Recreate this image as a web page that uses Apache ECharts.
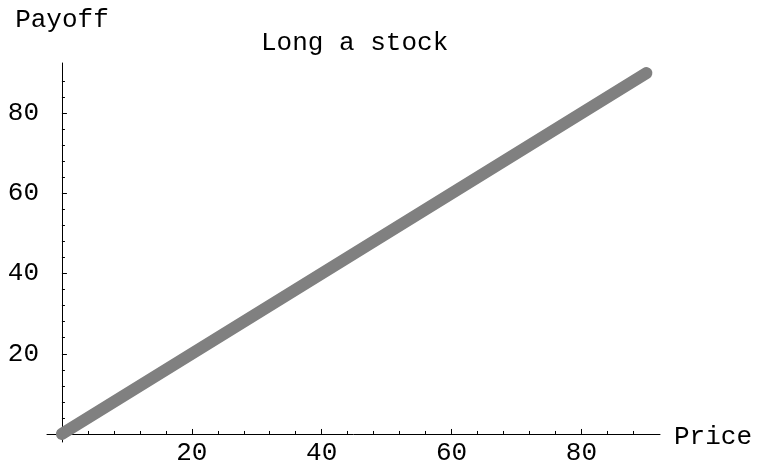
<!DOCTYPE html>
<html>
<head>
<meta charset="utf-8">
<script src="https://cdn.jsdelivr.net/npm/echarts@6/dist/echarts.min.js"></script>
<style>html,body{margin:0;padding:0;background:#fff;}#c{width:759px;height:466px;}</style>
</head>
<body>
<div id="c"></div>
<script>
const price = [0, 90];
const payoff = [0, 90];
const xMajorTicks = [20, 40, 60, 80];
const yMajorTicks = [20, 40, 60, 80];
const xMinorTicks = [4, 8, 12, 16, 24, 28, 32, 36, 44, 48, 52, 56, 64, 68, 72, 76, 84, 88];
const yMinorTicks = [4, 8, 12, 16, 24, 28, 32, 36, 44, 48, 52, 56, 64, 68, 72, 76, 84, 88];
const titleText = 'Long a stock';
const xName = 'Price';
const yName = 'Payoff';

const FONT = '"Courier New", Courier, "Liberation Mono", monospace';
const FS = 26;
const X_MIN = -2.3, X_MAX = 92.1, Y_MIN = -2, Y_MAX = 92.5;

const chart = echarts.init(document.getElementById('c'), null, {renderer: 'canvas'});
const axisBase = {
  type: 'value',
  splitLine: {show: false},
  axisLine: {onZero: true, lineStyle: {color: '#000', width: 1}},
};
chart.setOption({
  backgroundColor: '#fff',
  animation: false,
  title: {
    text: titleText, left: 256, top: 25,
    textStyle: {fontFamily: FONT, fontSize: FS, fontWeight: 'normal', color: '#000'}
  },
  grid: {left: 47, right: 99, top: 63, bottom: 24, containLabel: false, outerBoundsMode: 'none'},
  xAxis: [
    Object.assign({}, axisBase, {
      min: X_MIN, max: X_MAX, position: 'bottom',
      name: xName, nameLocation: 'end', nameGap: 14,
      nameTextStyle: {fontFamily: FONT, fontSize: FS, color: '#000', verticalAlign: 'top', lineHeight: 6},
      axisTick: {show: true, inside: true, length: 5, customValues: xMajorTicks, lineStyle: {color: '#000'}},
      axisLabel: {show: true, customValues: xMajorTicks, margin: -2, fontFamily: FONT, fontSize: FS, color: '#000'}
    }),
    Object.assign({}, axisBase, {
      min: X_MIN, max: X_MAX, position: 'bottom',
      axisLine: {show: false, onZero: true, onZeroAxisIndex: 0},
      axisTick: {show: true, inside: true, length: 3, customValues: xMinorTicks, lineStyle: {color: '#000'}},
      axisLabel: {show: false}
    })
  ],
  yAxis: [
    Object.assign({}, axisBase, {
      min: Y_MIN, max: Y_MAX, position: 'left',
      name: yName, nameLocation: 'end', nameGap: 30,
      nameTextStyle: {fontFamily: FONT, fontSize: FS, color: '#000', align: 'center'},
      axisTick: {show: true, inside: true, length: 5, customValues: yMajorTicks, lineStyle: {color: '#000'}},
      axisLabel: {show: true, customValues: yMajorTicks, margin: 8, padding: [8, 0, 0, 0], fontFamily: FONT, fontSize: FS, color: '#000'}
    }),
    Object.assign({}, axisBase, {
      min: Y_MIN, max: Y_MAX, position: 'left',
      axisLine: {show: false, onZero: true, onZeroAxisIndex: 0},
      axisTick: {show: true, inside: true, length: 3, customValues: yMinorTicks, lineStyle: {color: '#000'}},
      axisLabel: {show: false}
    })
  ],
  series: [{
    type: 'line',
    xAxisIndex: 0, yAxisIndex: 0,
    data: price.map((p, i) => [p, payoff[i]]),
    showSymbol: false,
    symbol: 'none',
    lineStyle: {color: '#808080', width: 12, cap: 'round'},
    clip: false
  }]
});
</script>
</body>
</html>
